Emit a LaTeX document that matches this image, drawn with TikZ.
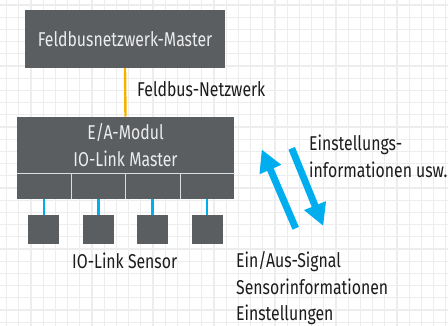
\documentclass[tikz,border=0pt]{standalone}
\usepackage{fontspec}
\setmainfont[FakeStretch=0.79]{Fira Sans}
\usetikzlibrary{arrows.meta}
\definecolor{boxgray}{HTML}{5B5E61}
\definecolor{boxtext}{HTML}{ECECEC}
\definecolor{sepcol}{HTML}{D8DEE2}
\definecolor{fbus}{HTML}{F5B300}
\definecolor{iolink}{HTML}{00AEEF}
\definecolor{gridcol}{HTML}{EDEDED}
\definecolor{txt}{HTML}{1C1C1C}
\tikzset{
  gbox/.style={fill=boxgray, inner sep=0pt, text=boxtext, font=\fontsize{20}{26.5}\selectfont, align=center},
  cell/.style={fill=boxgray, inner sep=0pt, minimum width=54.4pt, minimum height=25.7pt},
  sensor/.style={fill=boxgray, inner sep=0pt, minimum width=31pt, minimum height=29pt},
  lbl/.style={text=txt, inner sep=0pt, font=\fontsize{20}{26.5}\selectfont, align=left},
  sepline/.style={draw=sepcol, line width=1.2pt},
  fbusline/.style={draw=fbus, line width=2.4pt},
  ioline/.style={draw=iolink, line width=2.6pt},
  bigarrow/.style={draw=iolink, line width=7pt, -{Triangle[length=22pt,width=22pt]}}
}
\begin{document}
\begin{tikzpicture}[x=1pt,y=-1pt]
\useasboundingbox (0,0) rectangle (448,325);
\fill[white] (0,0) rectangle (448,325);
\begin{scope}
\clip (0,0) rectangle (448,325);
\draw[gridcol, line width=1.3pt, xshift=6.6pt, yshift=-5pt, step=12.2pt] (-12.2,-12.2) grid (450,330);
\end{scope}

% top master
\node[gbox, minimum width=200pt, minimum height=58pt] (fm) at (125,39) {Feldbusnetzwerk-Master};

% E/A module
\node[gbox, minimum width=217.6pt, minimum height=56.6pt] (ea) at (125.5,145) {E/A-Modul\\IO-Link Master};
\node[cell] (c1) at (43.9,186.15) {};
\node[cell] (c2) at (98.3,186.15) {};
\node[cell] (c3) at (152.7,186.15) {};
\node[cell] (c4) at (207.1,186.15) {};
\draw[sepline] (ea.south west) -- (ea.south east);
\draw[sepline] (c1.north east) -- (c1.south east);
\draw[sepline] (c2.north east) -- (c2.south east);
\draw[sepline] (c3.north east) -- (c3.south east);

% fieldbus connection
\draw[fbusline] (fm.south) -- (ea.north);
\node[lbl, anchor=west] (fbl) at (137,89.5) {Feldbus-Netzwerk};

% sensors
\node[sensor] (s1) at (43.9,229.7) {};
\node[sensor] (s2) at (98.3,229.7) {};
\node[sensor] (s3) at (152.7,229.7) {};
\node[sensor] (s4) at (207.1,229.7) {};
\draw[ioline] (c1.south) -- (s1.north);
\draw[ioline] (c2.south) -- (s2.north);
\draw[ioline] (c3.south) -- (s3.north);
\draw[ioline] (c4.south) -- (s4.north);
\node[lbl] (sl) at (124.7,261) {IO-Link Sensor};

% arrows
\coordinate (u1) at (295.7,228.3);
\coordinate (u2) at (261.7,149.3);
\coordinate (d1) at (291.7,148.3);
\coordinate (d2) at (323.3,226);
\draw[bigarrow] (u1) -- (u2);
\draw[bigarrow] (d1) -- (d2);

\node[lbl, anchor=west] (up) at (309,156.5) {Einstellungs-\\informationen usw.};
\node[lbl, anchor=west] (dn) at (236,288.5) {Ein/Aus-Signal\\Sensorinformationen\\Einstellungen};
\end{tikzpicture}
\end{document}
